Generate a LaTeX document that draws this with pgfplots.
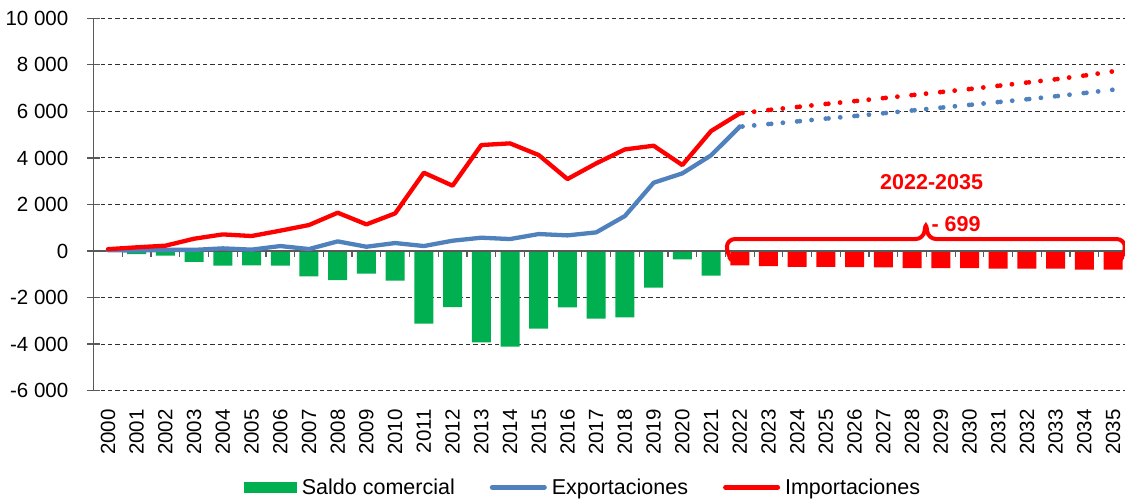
\documentclass[border=0pt]{standalone}
\usepackage{fontspec}
\setmainfont{Liberation Sans}
\usepackage{pgfplots}
\pgfplotsset{compat=1.18}
\definecolor{sgreen}{HTML}{00B050}
\definecolor{sblue}{HTML}{4F81BD}
\definecolor{sred}{HTML}{FF0000}
\definecolor{axgray}{HTML}{595959}
\definecolor{gridgray}{HTML}{303030}
\pgfplotsset{
  greenleg/.style={legend image code/.code={\fill[sgreen] (0pt,-5.5pt) rectangle (53pt,5.5pt);}},
  blueleg/.style={legend image code/.code={\draw[sblue, line width=5pt, line cap=round] (2.5pt,0pt) -- (54.5pt,0pt);}},
  redleg/.style={legend image code/.code={\draw[sred, line width=5pt, line cap=round] (2.5pt,0pt) -- (54.5pt,0pt);}},
}
\begin{document}
\begin{tikzpicture}
\useasboundingbox (0,0) rectangle (1125pt,500pt);
\begin{axis}[
  at={(93.6pt,109.3pt)}, anchor=south west,
  scale only axis, width=1033.9pt, height=372.4pt,
  xmin=-0.5, xmax=35.5, ymin=-6000, ymax=10000,
  axis y line*=left, axis x line*=bottom,
  x axis line style={draw=none},
  y axis line style={axgray, line width=1.3pt},
  scaled y ticks=false,
  xtick={0,...,35},
  xticklabels={2000,2001,2002,2003,2004,2005,2006,2007,2008,2009,2010,2011,2012,2013,2014,2015,2016,2017,2018,2019,2020,2021,2022,2023,2024,2025,2026,2027,2028,2029,2030,2031,2032,2033,2034,2035},
  xtick style={draw=none},
  ytick={-6000,-4000,...,10000},
  yticklabels={-6 000,-4 000,-2 000,0,2 000,4 000,6 000,8 000,10 000},
  ytick style={axgray, line width=1.3pt},
  major tick length=13pt, tick align=center,
  ymajorgrids, grid style={gridgray, line width=1pt, dash pattern=on 4.3pt off 3pt},
  yticklabel style={font=\fontsize{20.5}{24}\selectfont, anchor=east, inner sep=0pt},
  yticklabel shift=18.6pt,
  xticklabel style={font=\fontsize{20.5}{24}\selectfont, rotate=90, anchor=east, inner sep=0pt},
  xticklabel shift=11.8pt,
  clip=false,
  legend columns=3,
  legend style={at={(0.4724,-0.2594)}, anchor=center, draw=none, fill=none, inner sep=0pt,
    font=\fontsize{21.5}{25}\selectfont, nodes={inner sep=0pt},
    /tikz/every odd column/.append style={column sep=5pt},
    /tikz/every even column/.append style={column sep=35pt}},
]
% Saldo comercial 2000-2021
\addplot[ybar, bar width=19pt, bar shift=0pt, fill=sgreen, draw=none, greenleg]
  coordinates {(0,-40) (1,-130) (2,-200) (3,-460) (4,-630) (5,-615) (6,-630) (7,-1090)
  (8,-1245) (9,-975) (10,-1275) (11,-3120) (12,-2405) (13,-3925) (14,-4110) (15,-3335)
  (16,-2420) (17,-2905) (18,-2850) (19,-1575) (20,-360) (21,-1060)};
\addlegendentry{Saldo comercial}
% Saldo projected 2022-2035
\addplot[ybar, bar width=19pt, bar shift=0pt, fill=sred, draw=none, forget plot]
  coordinates {(22,-615) (23,-645) (24,-685) (25,-685) (26,-690) (27,-700) (28,-730)
  (29,-730) (30,-730) (31,-760) (32,-760) (33,-760) (34,-800) (35,-800)};
% zero line
\addplot[axgray, line width=1.3pt, forget plot] coordinates {(-0.5,0) (35.5,0)};
\pgfplotsinvokeforeach{-0.5,0.5,...,35.5}{\draw[axgray, line width=1.2pt] (axis cs:#1,0) -- ++(0pt,-6pt);}
% Exportaciones
\addplot[sblue, line width=4.3pt, line join=round, line cap=round, blueleg]
  coordinates {(0,40) (1,20) (2,50) (3,50) (4,115) (5,60) (6,215) (7,85) (8,415) (9,185)
  (10,344) (11,215) (12,444) (13,573) (14,515) (15,730) (16,673) (17,802) (18,1504)
  (19,2935) (20,3337) (21,4110) (22,5341)};
\addlegendentry{Exportaciones}
\addplot[sblue, line width=4.8pt, line cap=round, forget plot,
  dash pattern={on 0pt off 2.7pt on 0pt off 11.8pt on 0pt off 14.3pt}]
  coordinates {(22,5341) (23,5455) (24,5570) (25,5690) (26,5800) (27,5920) (28,6040)
  (29,6160) (30,6280) (31,6400) (32,6520) (33,6650) (34,6790) (35,6930)};
% Importaciones
\addplot[sred, line width=4.3pt, line join=round, line cap=round, redleg]
  coordinates {(0,80) (1,160) (2,230) (3,530) (4,715) (5,645) (6,875) (7,1117) (8,1646)
  (9,1146) (10,1618) (11,3365) (12,2807) (13,4554) (14,4626) (15,4124) (16,3093)
  (17,3766) (18,4367) (19,4525) (20,3694) (21,5155) (22,5914)};
\addlegendentry{Importaciones}
\addplot[sred, line width=4.8pt, line cap=round, forget plot,
  dash pattern={on 0pt off 2.7pt on 0pt off 11.8pt on 0pt off 14.3pt}]
  coordinates {(22,5914) (23,6060) (24,6190) (25,6320) (26,6440) (27,6570) (28,6700)
  (29,6830) (30,6960) (31,7100) (32,7240) (33,7380) (34,7540) (35,7720)};
% brace and annotations
\draw[sred, line width=4pt, rounded corners=8pt]
  (axis cs:21.63,-258) -- (axis cs:21.55,-120) -- (axis cs:21.55,515) -- (axis cs:28.40,515)
  -- (axis cs:28.48,1290) -- (axis cs:28.56,515) -- (axis cs:35.41,515)
  -- (axis cs:35.41,-120) -- (axis cs:35.33,-258);
\node[sred, font=\bfseries\fontsize{21.5}{25}\selectfont] at (axis cs:28.68,2968) {2022-2035};
\node[sred, font=\bfseries\fontsize{21.5}{25}\selectfont, anchor=west, inner sep=0pt] at (axis cs:28.67,1151) {- 699};
\end{axis}
\end{tikzpicture}
\end{document}
